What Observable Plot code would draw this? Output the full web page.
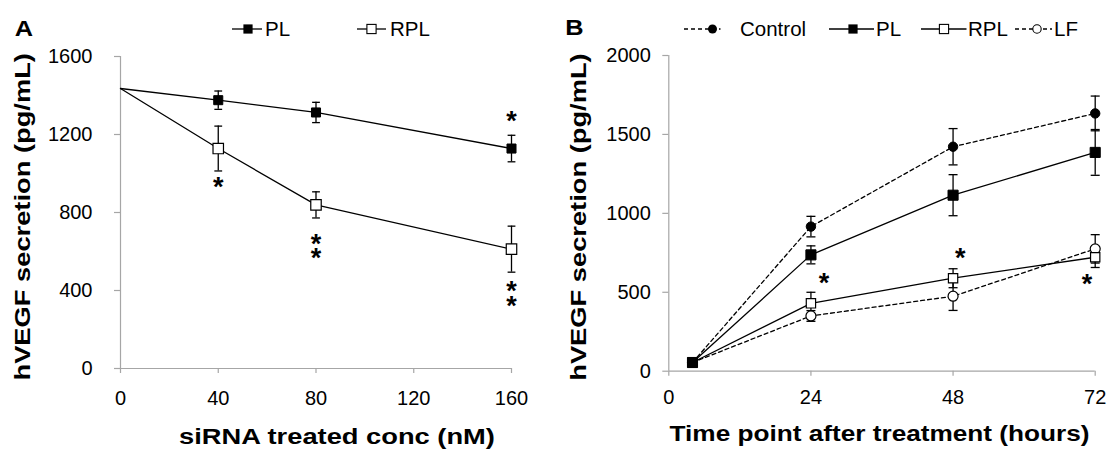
<!DOCTYPE html>
<html><head><meta charset="utf-8">
<script src="https://cdn.jsdelivr.net/npm/d3@7"></script>
<script src="https://cdn.jsdelivr.net/npm/@observablehq/plot@0.6"></script>
<style>
body{margin:0;background:#fff;font-family:"Liberation Sans",Arial,Helvetica,sans-serif;}
#wrap{position:relative;width:1107px;height:449px;overflow:hidden;background:#fff;}
.panel{position:absolute;top:0;}
.leg{position:absolute;top:19px;height:20px;font-size:20.5px;line-height:20px;color:#000;white-space:nowrap;}
.leg svg{display:block;overflow:visible;}
</style></head><body><div id="wrap"></div>
<script>
// ---------- Panel A data ----------
const concA = [0, 40, 80, 160];
const plA = [1436, 1376, 1313, 1128];
const plAErr = [0, 47, 52, 68];
const rplA = [1436, 1128, 839, 612];
const rplAErr = [0, 115, 67, 118];
const ticksAX = [0, 40, 80, 120, 160];
const ticksAY = [0, 400, 800, 1200, 1600];
// significance marks: position (x, y) and number of stacked asterisks
const starsAX = [160, 40, 80, 160];
const starsAY = [1277, 943, 612, 369];
const starsAN = [1, 1, 2, 2];
const titleAX = "siRNA treated conc (nM)";
const titleY = "hVEGF secretion (pg/mL)";

// ---------- Panel B data ----------
const timeB = [4, 24, 48, 72];
const controlB = [55, 916, 1422, 1633];
const controlBErr = [0, 65, 115, 110];
const plB = [55, 737, 1115, 1386];
const plBErr = [0, 57, 130, 145];
const rplB = [55, 430, 589, 722];
const rplBErr = [0, 70, 60, 65];
const lfB = [55, 350, 475, 775];
const lfBErr = [0, 34, 90, 90];
const ticksBX = [0, 24, 48, 72];
const ticksBY = [0, 500, 1000, 1500, 2000];
const starsBX = [26.2, 49.2, 70.6];
const starsBY = [574, 732, 563];
const starsBN = [1, 1, 1];
const titleBX = "Time point after treatment (hours)";

// ---------- helpers ----------
const gray = "#a6a6a6";
const font = "'Liberation Sans', Arial, Helvetica, sans-serif";
function rowsOf(xs, ys, es, name) {
  return xs.map((x, i) => ({x, y: ys[i], lo: ys[i] - es[i], hi: ys[i] + es[i], e: es[i], series: name}));
}
const capSymbol = {draw(ctx, size) { const r = Math.sqrt(size / Math.PI); ctx.moveTo(-r, 0); ctx.lineTo(r, 0); }};
function errorMarks(rows, capR) {
  const d = rows.filter(r => r.e > 0);
  return [
    Plot.ruleX(d, {x: "x", y1: "lo", y2: "hi", stroke: "black", strokeWidth: 1.3}),
    Plot.dot(d, {x: "x", y: "lo", symbol: capSymbol, r: capR, stroke: "black", strokeWidth: 1.3, fill: "none"}),
    Plot.dot(d, {x: "x", y: "hi", symbol: capSymbol, r: capR, stroke: "black", strokeWidth: 1.3, fill: "none"})
  ];
}
function starMarks(xs, ys, ns) {
  const d = xs.map((x, i) => ({x, y: ys[i], n: ns[i]}));
  return Plot.text(d, {x: "x", y: "y", text: d => d.n === 2 ? "*\n*" : "*", lineHeight: 0.53, fontSize: 27, fontWeight: "bold", dy: 6.4, fill: "black"});
}
function axes(tx, ty, xPad, yPad) {
  return [
    Plot.ruleY([0], {stroke: gray, strokeWidth: 1.2}),
    Plot.ruleX([0], {stroke: gray, strokeWidth: 1.2}),
    Plot.axisX({ticks: tx, tickSize: 5, tickPadding: xPad, stroke: gray, strokeWidth: 1.2, fill: "black", fontSize: 20, label: null, tickFormat: "d"}),
    Plot.axisY({ticks: ty, tickSize: 6, tickPadding: yPad, stroke: gray, strokeWidth: 1.2, fill: "black", fontSize: 20, label: null, tickFormat: "d"})
  ];
}
function titles(xTitle, xdx, xdy, ydx, ydy, letter, ldx, ldy) {
  return [
    Plot.text([xTitle], {frameAnchor: "bottom", textAnchor: "middle", lineAnchor: "middle", dx: xdx, dy: xdy, fontSize: 22, fontWeight: "bold", fill: "black"}),
    Plot.text([titleY], {frameAnchor: "left", textAnchor: "middle", lineAnchor: "middle", rotate: -90, dx: ydx, dy: ydy, fontSize: 22, fontWeight: "bold", fill: "black"}),
    Plot.text([letter], {frameAnchor: "top-left", textAnchor: "middle", lineAnchor: "middle", dx: ldx, dy: ldy, fontSize: 22, fontWeight: "bold", fill: "black"})
  ];
}

const wrap = document.getElementById("wrap");

// ---------- Panel A ----------
const plRowsA = rowsOf(concA, plA, plAErr, "PL");
const rplRowsA = rowsOf(concA, rplA, rplAErr, "RPL");
const plotA = Plot.plot({
  width: 555, height: 449,
  marginLeft: 120, marginRight: 44, marginTop: 56, marginBottom: 81,
  style: {fontFamily: font, fontSize: "20px", background: "transparent", overflow: "visible", color: "black"},
  x: {type: "linear", domain: [0, 160]},
  y: {type: "linear", domain: [0, 1600]},
  marks: [
    ...axes(ticksAX, ticksAY, 17, 22),
    Plot.line(plRowsA, {x: "x", y: "y", stroke: "black", strokeWidth: 1.3}),
    Plot.line(rplRowsA, {x: "x", y: "y", stroke: "black", strokeWidth: 1.3}),
    ...errorMarks(plRowsA, 3.9),
    ...errorMarks(rplRowsA, 3.9),
    Plot.dot(rplRowsA.filter(d => d.x > 0), {x: "x", y: "y", symbol: "square", r: 5.9, fill: "white", stroke: "black", strokeWidth: 1.2}),
    Plot.dot(plRowsA.filter(d => d.x > 0), {x: "x", y: "y", symbol: "square", r: 5.1, fill: "black", stroke: "black", strokeWidth: 1}),
    starMarks(starsAX, starsAY, starsAN),
    ...titles(titleAX, 21, 68, -98, 4.3, "A", -96.5, -27.5)
  ]
});
const divA = document.createElement("div");
divA.className = "panel"; divA.style.left = "0px";
divA.appendChild(plotA);
wrap.appendChild(divA);

// ---------- Panel B ----------
const ctlRows = rowsOf(timeB, controlB, controlBErr, "Control");
const plRowsB = rowsOf(timeB, plB, plBErr, "PL");
const rplRowsB = rowsOf(timeB, rplB, rplBErr, "RPL");
const lfRowsB = rowsOf(timeB, lfB, lfBErr, "LF");
const plotB = Plot.plot({
  width: 552, height: 449,
  marginLeft: 113.3, marginRight: 12.3, marginTop: 55, marginBottom: 78.3,
  style: {fontFamily: font, fontSize: "20px", background: "transparent", overflow: "visible", color: "black"},
  x: {type: "linear", domain: [0, 72]},
  y: {type: "linear", domain: [0, 2000]},
  marks: [
    ...axes(ticksBX, ticksBY, 14, 12),
    Plot.line(ctlRows, {x: "x", y: "y", stroke: "black", strokeWidth: 1.3, strokeDasharray: "4,3"}),
    Plot.line(lfRowsB, {x: "x", y: "y", stroke: "black", strokeWidth: 1.3, strokeDasharray: "4,3"}),
    Plot.line(rplRowsB, {x: "x", y: "y", stroke: "black", strokeWidth: 1.3}),
    Plot.line(plRowsB, {x: "x", y: "y", stroke: "black", strokeWidth: 1.3}),
    ...errorMarks(ctlRows, 4.5),
    ...errorMarks(lfRowsB, 4.5),
    ...errorMarks(rplRowsB, 4.5),
    ...errorMarks(plRowsB, 4.5),
    Plot.dot(ctlRows, {x: "x", y: "y", symbol: "circle", r: 4.7, fill: "black", stroke: "black", strokeWidth: 1}),
    Plot.dot(lfRowsB, {x: "x", y: "y", symbol: "circle", r: 5, fill: "white", stroke: "black", strokeWidth: 1.2}),
    Plot.dot(rplRowsB, {x: "x", y: "y", symbol: "square", r: 5.25, fill: "white", stroke: "black", strokeWidth: 1.2}),
    Plot.dot(plRowsB, {x: "x", y: "y", symbol: "square", r: 5.7, fill: "black", stroke: "black", strokeWidth: 1}),
    starMarks(starsBX, starsBY, starsBN),
    ...titles(titleBX, -2.5, 62.6, -90, 3.7, "B", -94.3, -27.2)
  ]
});
const divB = document.createElement("div");
divB.className = "panel"; divB.style.left = "555px";
divB.appendChild(plotB);
wrap.appendChild(divB);

// ---------- Legends (HTML) ----------
const legendItems = [
  {label: "PL", left: 232, w: 30, mx: 16, marker: "sqFill", dash: false, textLeft: 265},
  {label: "RPL", left: 357, w: 29, mx: 14.5, marker: "sqOpen", dash: false, textLeft: 390},
  {label: "Control", left: 684, w: 36.5, mx: 28.5, marker: "circFill", dash: true, textLeft: 740},
  {label: "PL", left: 829, w: 45, mx: 24, marker: "sqFill", dash: false, textLeft: 876},
  {label: "RPL", left: 921, w: 45.5, mx: 23, marker: "sqOpen", dash: false, textLeft: 968},
  {label: "LF", left: 1015, w: 37, mx: 22, marker: "circOpen", dash: true, textLeft: 1054}
];
function markerSvg(kind, cx, cy) {
  if (kind === "sqFill") return `<rect x="${cx-4.6}" y="${cy-4.6}" width="9.2" height="9.2" fill="black"/>`;
  if (kind === "sqOpen") return `<rect x="${cx-4.6}" y="${cy-4.6}" width="9.2" height="9.2" fill="white" stroke="black" stroke-width="1.1"/>`;
  if (kind === "circFill") return `<circle cx="${cx}" cy="${cy}" r="4.5" fill="black"/>`;
  return `<circle cx="${cx}" cy="${cy}" r="4.2" fill="white" stroke="black" stroke-width="1.1"/>`;
}
for (const it of legendItems) {
  const sym = document.createElement("div");
  sym.className = "leg";
  sym.style.left = it.left + "px";
  sym.innerHTML = `<svg width="${it.w}" height="20"><line x1="0" x2="${it.w}" y1="10" y2="10" stroke="black" stroke-width="1.3" ${it.dash ? 'stroke-dasharray="4,3"' : ''}/>${markerSvg(it.marker, it.mx, 10)}</svg>`;
  wrap.appendChild(sym);
  const txt = document.createElement("div");
  txt.className = "leg";
  txt.style.left = it.textLeft + "px";
  txt.textContent = it.label;
  wrap.appendChild(txt);
}

// ---------- widen bold titles (the reference uses a wide bold face) ----------
for (const t of wrap.querySelectorAll("svg text")) {
  const s = t.textContent;
  if (s === titleAX || s === titleBX || s === titleY || s === "A" || s === "B") {
    const L = t.getComputedTextLength();
    const k = s === "A" || s === "B" ? 1.15 : (s === titleBX ? 1.19 : 1.24);
    t.setAttribute("textLength", (L * k).toFixed(1));
    t.setAttribute("lengthAdjust", "spacingAndGlyphs");
  }
}
</script></body></html>
